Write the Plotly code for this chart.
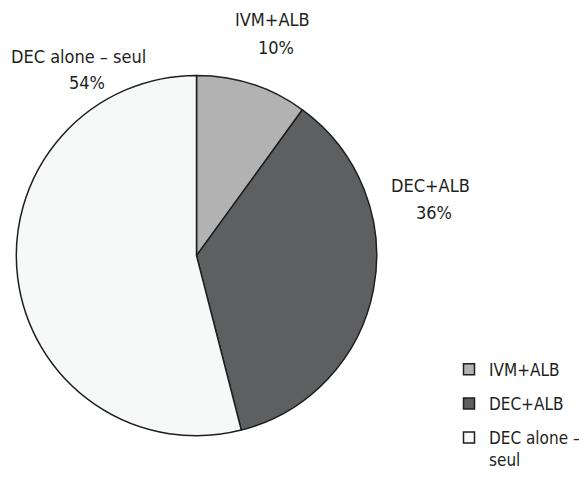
import plotly.graph_objects as go

categories = ["IVM+ALB", "DEC+ALB", "DEC alone – seul"]
legend_labels = ["IVM+ALB", "DEC+ALB", "DEC alone –<br>seul"]
values = [10, 36, 54]
colors = ["#b2b2b2", "#5d5f61", "#f7f8f8"]

# the page body adds an 8px margin around the figure
OFF = 8
W, H = 587 - OFF, 478 - OFF
FONT = "DejaVu Sans Condensed, DejaVu Sans, sans-serif"
TXT = "#231f20"
EDGE = "#1e1e1e"
FS = 18
LFS = 17


def px(x):
    return (x - OFF) / W


def py(y):
    return 1 - (y - OFF) / H


fig = go.Figure()
cx, cy, r = 196.5, 261.5, 184.5
fig.add_trace(go.Pie(
    labels=categories,
    values=values,
    sort=False,
    direction="clockwise",
    rotation=0,
    marker=dict(colors=colors, line=dict(color=EDGE, width=1.5)),
    textinfo="none",
    hoverinfo="label+percent",
    showlegend=False,
    domain=dict(x=[px(cx - r), px(cx + r)], y=[py(cy + r), py(cy - r)]),
))

# legend entries (one per slice, same colours)
for lab, col in zip(legend_labels, colors):
    fig.add_trace(go.Scatter(
        x=[None], y=[None], mode="markers", name=lab, legendgroup=lab,
        marker=dict(symbol="square", size=11, color=col, line=dict(color=EDGE, width=1.5)),
        showlegend=True,
    ))

# outside labels: name line and percent line
name_pos = [(272, 20), (430, 190), (78, 58)]
pct_pos = [(276, 48), (434, 217), (87, 84)]
for cat, v, (nx, ny), (qx, qy) in zip(categories, values, name_pos, pct_pos):
    fig.add_annotation(
        x=px(nx), y=py(ny), xref="paper", yref="paper",
        text=cat, showarrow=False, font=dict(family=FONT, size=FS, color=TXT),
        xanchor="center", yanchor="middle",
    )
    fig.add_annotation(
        x=px(qx), y=py(qy), xref="paper", yref="paper",
        text=f"{v}%", showarrow=False, font=dict(family=FONT, size=FS, color=TXT),
        xanchor="center", yanchor="middle",
    )

fig.update_layout(
    width=W, height=H,
    margin=dict(l=0, r=0, t=0, b=0),
    paper_bgcolor="white",
    plot_bgcolor="white",
    font=dict(family=FONT, size=FS, color=TXT),
    xaxis=dict(visible=False),
    yaxis=dict(visible=False),
    showlegend=True,
    legend=dict(
        x=px(449), y=py(360), xanchor="left", yanchor="top",
        font=dict(family=FONT, size=LFS, color=TXT),
        bgcolor="rgba(0,0,0,0)",
        tracegroupgap=9,
        valign="top",
        itemclick=False,
    ),
)

fig.write_html("out.html")
